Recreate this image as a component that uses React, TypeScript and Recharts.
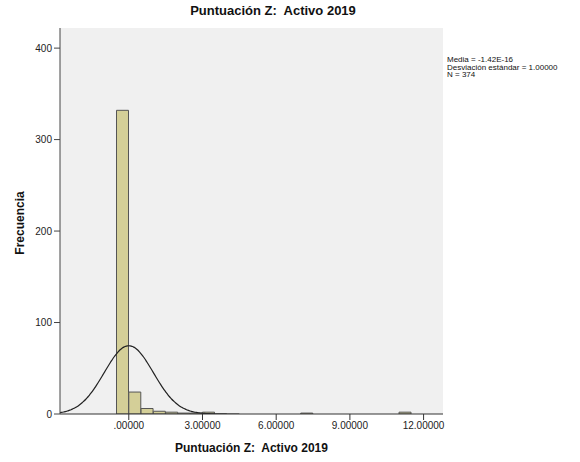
import { ComposedChart, Bar, Line, XAxis, YAxis, CartesianGrid, ReferenceArea } from "recharts";

const title = "Puntuación Z:  Activo 2019";
const yLabel = "Frecuencia";

// histogram bins (left edge) and counts
const binWidth = 0.5;
const binLefts = [-0.5, 0, 0.5, 1.0, 1.5, 2.0, 2.5, 3.0, 7.0, 11.0];
const frequencies = [332, 24, 6, 3, 2, 1, 1, 2, 1, 2];

const media = -1.42e-16;
const desviacion = 1.0;
const n = 374;
const statLines = ["Media = -1.42E-16", "Desviación estándar = 1.00000", "N = 374"];

const xTicks = [0, 3, 6, 9, 12];
const yTicks = [0, 100, 200, 300, 400];
const xDomain: [number, number] = [-2.8, 12.79];
const yDomain: [number, number] = [0, 422];

const bars = binLefts.map((b, i) => ({ x: b + binWidth / 2, count: frequencies[i] }));

// fitted normal curve (mean, sd, N scaled to bin width)
const curvePts: { x: number; fit: number }[] = [];
for (let x = xDomain[0]; x <= 4.5; x += 0.05) {
  const z = (x - media) / desviacion;
  curvePts.push({
    x,
    fit: (n * binWidth) / (desviacion * Math.sqrt(2 * Math.PI)) * Math.exp(-0.5 * z * z),
  });
}

const W = 580;
const H = 462;
const margin = { top: 28, right: 137, bottom: 18, left: 0 };

const font = "'Liberation Sans', Arial, sans-serif";
const tickStyle = { fontSize: 10, fill: "#222", fontFamily: font };

export default function App() {
  return (
    <div style={{ position: "relative", width: W, height: H, background: "#fff", fontFamily: font }}>
      <style>{`body{margin:0}`}</style>
      <ComposedChart width={W} height={H} data={bars} margin={margin} barCategoryGap={0} barGap={0}>
        <CartesianGrid fill="#f0f0f0" horizontal={false} vertical={false} />
        <XAxis
          xAxisId="main"
          dataKey="x"
          type="number"
          domain={xDomain}
          allowDataOverflow
          ticks={xTicks}
          tickFormatter={(v: number) => (v === 0 ? ".00000" : v.toFixed(5))}
          tick={tickStyle}
          tickSize={6}
          height={30}
          stroke="#333"
        />
        <XAxis xAxisId="bins" dataKey="x" type="number" domain={xDomain} allowDataOverflow hide height={0} />
        <YAxis
          type="number"
          domain={yDomain}
          allowDataOverflow
          ticks={yTicks}
          tick={tickStyle}
          tickSize={6}
          width={60}
          stroke="#444"
        />
        <Bar
          xAxisId="bins"
          dataKey="count"
          fill="#d4cf98"
          stroke="#555"
          strokeWidth={1}
          isAnimationActive={false}
        />
        <Line
          xAxisId="main"
          data={curvePts}
          dataKey="fit"
          type="monotone"
          stroke="#222"
          strokeWidth={1.2}
          dot={false}
          activeDot={false}
          isAnimationActive={false}
        />
        <ReferenceArea xAxisId="main" ifOverflow="visible" fill="none" stroke="#666" strokeWidth={1.3} />
      </ComposedChart>
      <div
        style={{
          position: "absolute",
          left: 0,
          width: 546,
          top: 3,
          textAlign: "center",
          fontSize: 13,
          fontWeight: "bold",
          color: "#111",
          whiteSpace: "pre",
        }}
      >
        {title}
      </div>
      <div
        style={{
          position: "absolute",
          left: 60,
          width: 383,
          top: 441,
          textAlign: "center",
          fontSize: 12,
          fontWeight: "bold",
          color: "#111",
          whiteSpace: "pre",
        }}
      >
        {title}
      </div>
      <div
        style={{
          position: "absolute",
          left: 20 - 50,
          top: 216,
          width: 100,
          textAlign: "center",
          fontSize: 12,
          fontWeight: "bold",
          color: "#111",
          transform: "rotate(-90deg)",
        }}
      >
        {yLabel}
      </div>
      <div style={{ position: "absolute", left: 447, top: 56, fontSize: 8, lineHeight: "7.6px", color: "#111" }}>
        {statLines.map((s) => (
          <div key={s}>{s}</div>
        ))}
      </div>
    </div>
  );
}
